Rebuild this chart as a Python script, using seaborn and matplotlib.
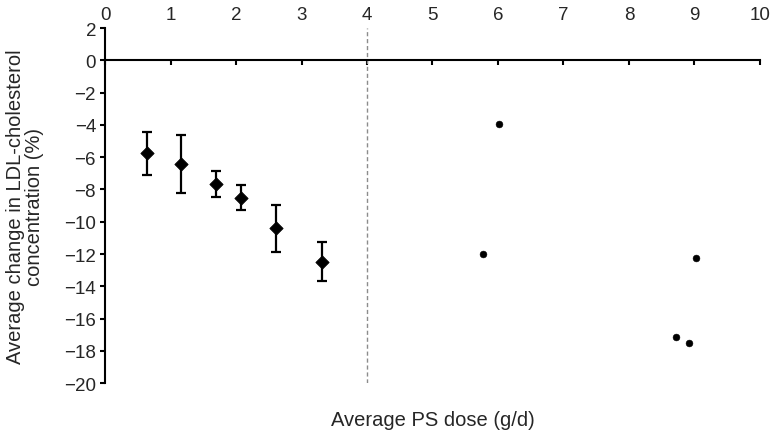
import numpy as np
import pandas as pd
import matplotlib
matplotlib.use('Agg')
import matplotlib.pyplot as plt
import seaborn as sns

# Studies with error bars (diamonds)
dose_grp = [0.64, 1.155, 1.695, 2.07, 2.61, 3.31]
ldl_grp = [-5.76, -6.44, -7.64, -8.50, -10.40, -12.50]
err_hi = [-4.46, -4.64, -6.85, -7.70, -8.98, -11.27]
err_lo = [-7.08, -8.24, -8.44, -9.27, -11.90, -13.68]

# Single high-dose studies (dots)
dose_hi = [6.02, 5.77, 9.02, 8.72, 8.92]
ldl_hi = [-3.92, -11.97, -12.22, -17.15, -17.50]

sns.set_style('white')
plt.rcParams['font.family'] = ['Liberation Sans', 'DejaVu Sans']

grp = pd.DataFrame({'dose': dose_grp, 'ldl': ldl_grp})
single = pd.DataFrame({'dose': dose_hi, 'ldl': ldl_hi})

fig = plt.figure(figsize=(7.73, 4.35), dpi=100)
ax = fig.add_axes([0.136, 0.117, 0.847, 0.816])

# dashed cut-off at 4 g/d
ax.axvline(4, color='#8c8c8c', lw=1, ls=(0, (3, 2)), zorder=1)

yerr = np.array([np.array(ldl_grp) - np.array(err_lo),
                 np.array(err_hi) - np.array(ldl_grp)])
ax.errorbar(dose_grp, ldl_grp, yerr=yerr, fmt='none', ecolor='black',
            elinewidth=1.6, capsize=3.6, capthick=1.6, zorder=2)
sns.scatterplot(data=grp, x='dose', y='ldl', marker='D', s=46, color='black',
                edgecolor='black', ax=ax, zorder=3)
sns.scatterplot(data=single, x='dose', y='ldl', marker='o', s=24, color='black',
                edgecolor='black', ax=ax, zorder=3)

ax.set_xlim(0, 10)
ax.set_ylim(-20, 2)
ax.set_xticks(range(0, 11))
ax.set_yticks(range(-20, 3, 2))

ax.spines['top'].set_visible(False)
ax.spines['right'].set_visible(False)
ax.spines['bottom'].set_position(('data', 0))
for s in ['left', 'bottom']:
    ax.spines[s].set_linewidth(1.5)
    ax.spines[s].set_color('black')

ax.tick_params(axis='x', bottom=True, top=False, labelbottom=False, labeltop=True,
               direction='out', length=3.5, width=1.5, labelsize=13.5, pad=0, color='black')
ax.tick_params(axis='y', left=True, direction='out', length=3.5, width=1.5,
               labelsize=13.5, pad=3, color='black')

ax.set_xlabel('Average PS dose (g/d)', fontsize=14.5)
ax.xaxis.set_label_coords(0.5, -0.075)
ax.set_ylabel('Average change in LDL-cholesterol\nconcentration (%)', fontsize=14.5,
              linespacing=1.0)
ax.yaxis.set_label_coords(-0.094, 0.5)

plt.savefig('out.png', dpi=100)
plt.close()
